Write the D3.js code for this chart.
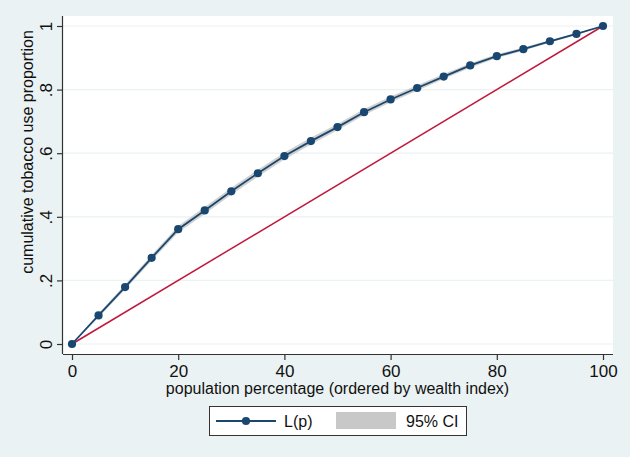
<!DOCTYPE html>
<html>
<head>
<meta charset="utf-8">
<script src="https://cdn.jsdelivr.net/npm/d3@7"></script>
<style>
html,body{margin:0;padding:0;background:#eaf2f3;}
svg{display:block;font-family:"Liberation Sans",Arial,sans-serif;}
</style>
</head>
<body>
<svg id="chart" width="630" height="457"></svg>
<script>
const popPct = [0,5,10,15,20,25,30,35,40,45,50,55,60,65,70,75,80,85,90,95,100];
const lorenz = [0,0.090,0.179,0.271,0.361,0.420,0.480,0.537,0.591,0.638,0.682,0.729,0.769,0.805,0.841,0.876,0.905,0.927,0.952,0.975,1];
const ciLow  = [0,0.084,0.171,0.262,0.351,0.409,0.469,0.526,0.580,0.627,0.672,0.719,0.760,0.796,0.833,0.869,0.899,0.922,0.948,0.972,1];
const ciHigh = [0,0.096,0.187,0.280,0.371,0.431,0.491,0.548,0.602,0.649,0.692,0.739,0.778,0.814,0.849,0.883,0.911,0.932,0.956,0.978,1];
const equality = [0,100];
const xTicks = [0,20,40,60,80,100];
const yTicks = [0,0.2,0.4,0.6,0.8,1];
const yTickLabels = ["0",".2",".4",".6",".8","1"];
const seriesNames = ["L(p)","95% CI"];

const svg = d3.select("#chart");
const plot = {left:63, right:613, top:16, bottom:354};
const x = d3.scaleLinear().domain([0,100]).range([72,603]);
const y = d3.scaleLinear().domain([0,1]).range([344,26]);

svg.append("rect").attr("width",630).attr("height",457).attr("fill","#eaf2f3");
svg.append("rect").attr("x",plot.left).attr("y",plot.top)
  .attr("width",plot.right-plot.left).attr("height",plot.bottom-plot.top).attr("fill","#ffffff");

// gridlines
svg.append("g").selectAll("line").data(yTicks).join("line")
  .attr("x1",plot.left).attr("x2",plot.right)
  .attr("y1",d=>y(d)).attr("y2",d=>y(d))
  .attr("stroke","#eaf2f3").attr("stroke-width",1.2);

// CI band
const data = popPct.map((p,i)=>({p, l:lorenz[i], lo:ciLow[i], hi:ciHigh[i]}));
svg.append("path").datum(data)
  .attr("d", d3.area().x(d=>x(d.p)).y0(d=>y(d.lo)).y1(d=>y(d.hi)))
  .attr("fill","#c8c8c8").attr("opacity",0.85);

// equality line
svg.append("path").datum(equality)
  .attr("d", d3.line().x(d=>x(d)).y(d=>y(d/100)))
  .attr("fill","none").attr("stroke","#c1173b").attr("stroke-width",1.5);

// lorenz line
svg.append("path").datum(data)
  .attr("d", d3.line().x(d=>x(d.p)).y(d=>y(d.l)))
  .attr("fill","none").attr("stroke","#1a476f").attr("stroke-width",1.8);
svg.append("g").selectAll("circle").data(data).join("circle")
  .attr("cx",d=>x(d.p)).attr("cy",d=>y(d.l)).attr("r",4.1).attr("fill","#1a476f");

// axes
const axisColor = "#333333";
const xAxis = svg.append("g").attr("transform",`translate(0,${plot.bottom})`)
  .call(d3.axisBottom(x).tickValues(xTicks).tickSize(6).tickSizeOuter(0));
xAxis.select(".domain").attr("d",`M${plot.left},0.5H${plot.right}`);
const yAxis = svg.append("g").attr("transform",`translate(${plot.left},0)`)
  .call(d3.axisLeft(y).tickValues(yTicks).tickFormat((d,i)=>yTickLabels[i]).tickSize(6).tickSizeOuter(0));
yAxis.select(".domain").attr("d",`M-0.5,${plot.top}V${plot.bottom}`);
[xAxis,yAxis].forEach(a=>{
  a.select(".domain").attr("stroke",axisColor).attr("stroke-width",1.2);
  a.selectAll(".tick line").attr("stroke",axisColor).attr("stroke-width",1.2);
  a.selectAll(".tick text").attr("fill","#111").attr("font-size",17)
    .attr("font-family","Liberation Sans, Arial, sans-serif");
});
xAxis.selectAll(".tick text").attr("dy",null).attr("y",23);
yAxis.selectAll(".tick text")
  .each(function(d){
    d3.select(this).attr("x",null).attr("dy",null).attr("y",0).attr("text-anchor","middle")
      .attr("transform",`translate(-11,0) rotate(-90)`);
  });

// axis titles
svg.append("text").attr("x",(x(0)+x(100))/2).attr("y",394).attr("text-anchor","middle")
  .attr("font-size",16).attr("fill","#111").text("population percentage (ordered by wealth index)");
svg.append("text").attr("transform",`translate(33,152) rotate(-90)`)
  .attr("text-anchor","middle").attr("font-size",16).attr("fill","#111").text("cumulative tobacco use proportion");

// legend
const lg = svg.append("g");
lg.append("rect").attr("x",209.5).attr("y",406.5).attr("width",257).attr("height",29)
  .attr("fill","#fff").attr("stroke","#333").attr("stroke-width",1);
lg.append("line").attr("x1",216).attr("x2",276).attr("y1",421).attr("y2",421)
  .attr("stroke","#1a476f").attr("stroke-width",1.8);
lg.append("circle").attr("cx",246).attr("cy",421).attr("r",4.1).attr("fill","#1a476f");
lg.append("text").attr("x",284).attr("y",427).attr("font-size",16).attr("fill","#111").text(seriesNames[0]);
lg.append("rect").attr("x",336).attr("y",412).attr("width",60).attr("height",17).attr("fill","#c8c8c8");
lg.append("text").attr("x",406).attr("y",427).attr("font-size",16).attr("fill","#111").text(seriesNames[1]);
</script>
</body>
</html>
